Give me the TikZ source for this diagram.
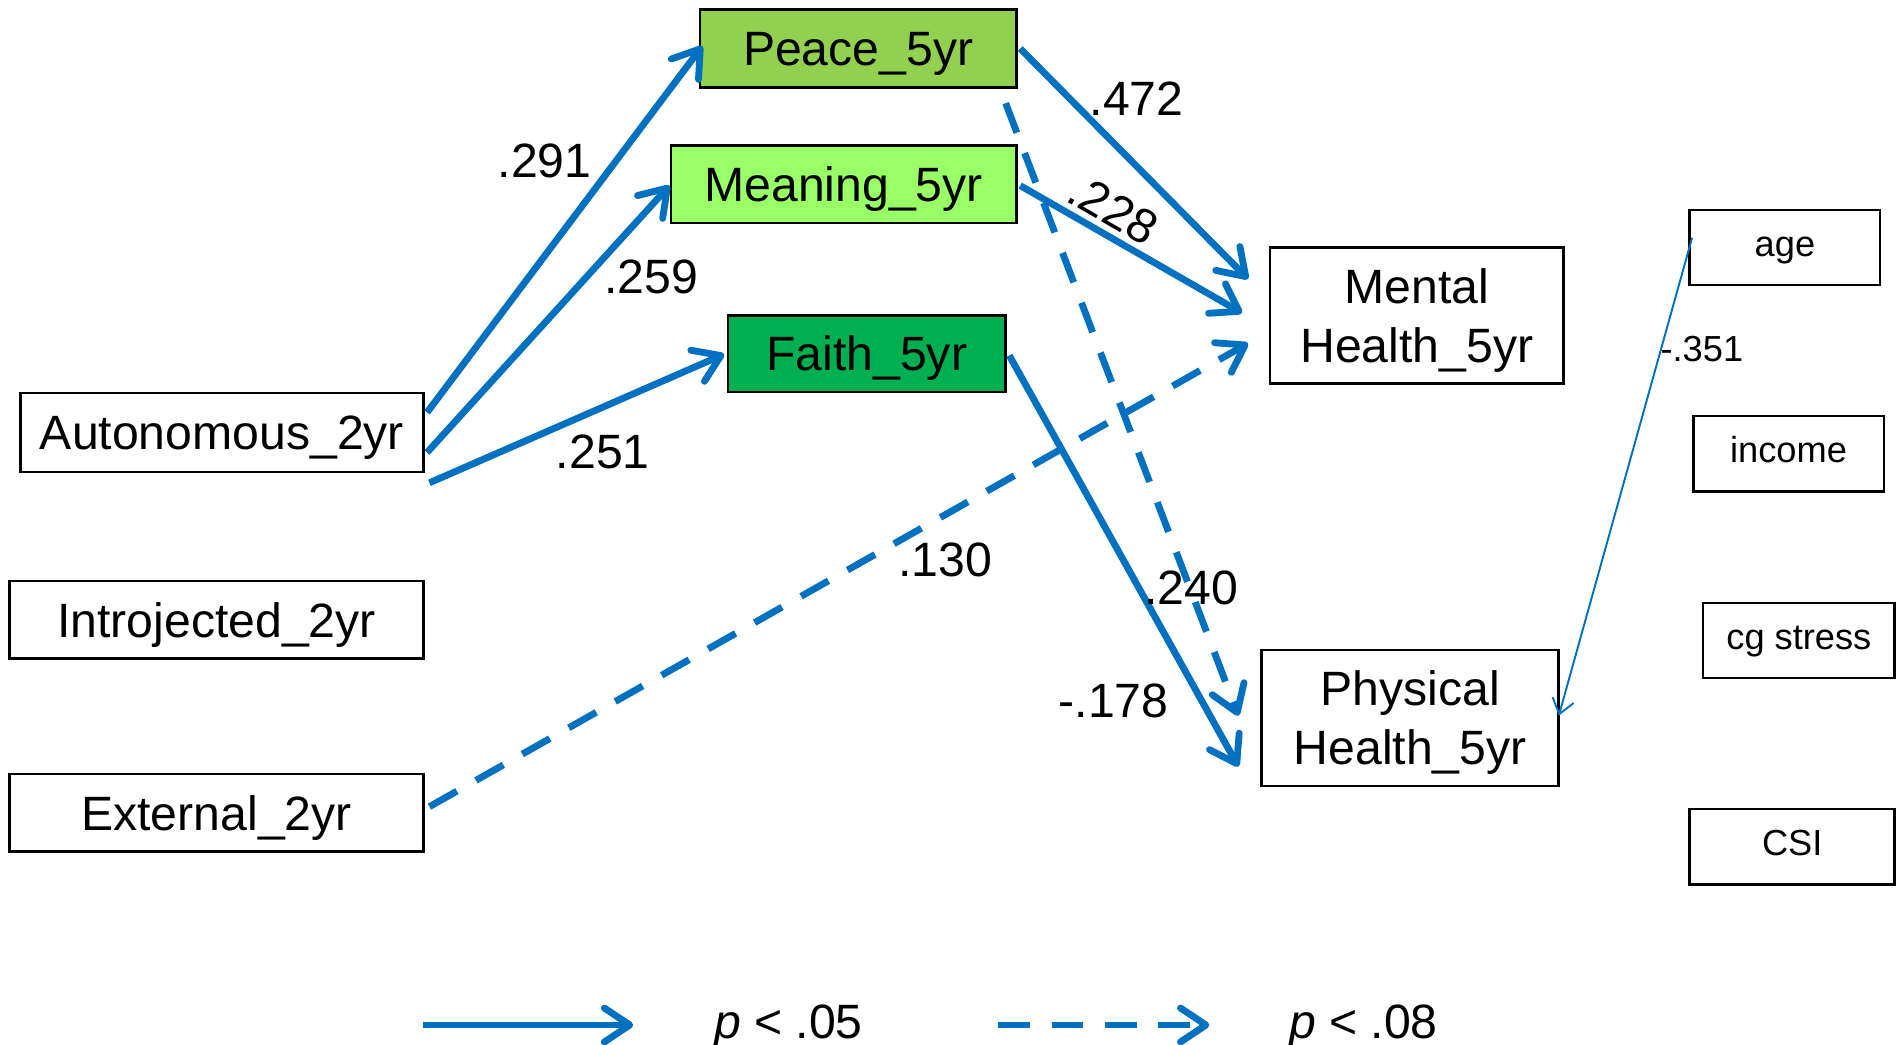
\documentclass[tikz,border=0pt]{standalone}
\usepackage{fontspec}
\setmainfont{Liberation Sans}
\usetikzlibrary{arrows.meta,calc}
\definecolor{pathblue}{HTML}{0070C0}
\definecolor{peacegreen}{HTML}{92D050}
\definecolor{meaninggreen}{HTML}{99FF66}
\definecolor{faithgreen}{HTML}{00B050}

\begin{document}
\begin{tikzpicture}[x=0.1mm,y=-0.1mm,
  var/.style={draw=black,line width=0.6pt,inner sep=0pt,align=center,
    font=\fontsize{11.3}{13.8}\selectfont,text height=8.1pt,text depth=0pt},
  twoline/.style={text height=21.9pt,text depth=0pt},
  cov/.style={draw=black,line width=0.6pt,inner sep=0pt,
    minimum height=6.2mm,font=\fontsize{8.5}{10}\selectfont,
    text height=6.1pt,text depth=2pt},
  sig/.style={draw=pathblue,line width=1.6pt,
    -{Straight Barb[length=2.1mm,width=2.8mm,round]}},
  trend/.style={sig,dash pattern=on 2.6mm off 1.8mm},
  ctrl/.style={draw=pathblue,line width=0.45pt,
    -{Straight Barb[length=1.2mm,width=1.8mm]}},
  coef/.style={font=\fontsize{11.3}{13}\selectfont,inner sep=0pt,
    text height=8.1pt,text depth=0pt},
  ctrlcoef/.style={font=\fontsize{8.5}{10}\selectfont,inner sep=0pt,
    text height=6.1pt,text depth=0pt}]

\useasboundingbox (0,0) rectangle (1568,861);

% mediators
\node[var,fill=peacegreen,minimum width=26.1mm,minimum height=6.4mm] (peace) at (707.5,40) {Peace\_5yr};
\node[var,fill=meaninggreen,minimum width=28.5mm,minimum height=6.4mm] (meaning) at (695.5,152) {Meaning\_5yr};
\node[var,fill=faithgreen,minimum width=22.9mm,minimum height=6.3mm] (faith) at (714.5,291.5) {Faith\_5yr};

% predictors
\node[var,minimum width=33.2mm,minimum height=6.5mm] (auto) at (183,356.5) {Autonomous\_2yr};
\node[var,minimum width=34.1mm,minimum height=6.4mm] (intro) at (178.5,511) {Introjected\_2yr};
\node[var,minimum width=34.1mm,minimum height=6.4mm] (ext) at (178.5,670) {External\_2yr};

% outcomes
\node[var,twoline,minimum width=24.2mm,minimum height=11.2mm] (mental) at (1168,260) {Mental\\Health\_5yr};
\node[var,twoline,minimum width=24.5mm,minimum height=11.2mm] (phys) at (1162.5,592) {Physical\\Health\_5yr};

% covariates
\node[cov,minimum width=15.7mm] (age) at (1471.5,204) {age};
\node[cov,minimum width=15.7mm] (income) at (1474.5,374) {income};
\node[cov,minimum width=15.8mm] (cgstress) at (1483,528) {cg stress};
\node[cov,minimum width=16.9mm] (csi) at (1477.5,698) {CSI};

% significant paths
\draw[sig] ($(auto.east)+(2,-16.5)$) -- ($(peace.west)+(3,-2)$);
\draw[sig] ($(auto.east)+(2,16.5)$) -- ($(meaning.west)+(0,1)$);
\draw[sig] ($(auto.east)+(4,41.5)$) -- ($(faith.west)+(-2,0.5)$);
\draw[sig] ($(peace.east)+(2,0)$) -- ($(mental.west)+(-17,-30)$);
\draw[sig] ($(meaning.east)+(2,1)$) -- ($(mental.west)+(-22,-2)$);
\draw[sig] ($(faith.east)+(2,1.5)$) -- ($(phys.west)+(-18,40)$);

% trend paths
\draw[trend] ($(ext.east)+(4,-5)$) -- ($(mental.west)+(-17,23)$);
\draw[trend] ($(peace.south east)+(-10,12)$) -- ($(phys.west)+(-18,-2)$);

% covariate path
\draw[ctrl] ($(age.west)+(3,-8)$) -- ($(phys.east)+(-1,-2)$);

% coefficients
\node[coef] (c291) at (449,132) {.291};
\node[coef] (c259) at (537,228) {.259};
\node[coef] (c251) at (497,372) {.251};
\node[coef] (c472) at (937,81) {.472};
\node[coef,rotate=-30] (c228) at (918,172) {.228};
\node[coef] (c130) at (779,461) {.130};
\node[coef] (c240) at (982,484) {.240};
\node[coef] (c178) at (918,577) {-.178};
\node[ctrlcoef] (c351) at (1403,287) {-.351};

% legend
\coordinate (lsa) at (349,845);
\coordinate (lsb) at (522,845);
\coordinate (lda) at (823,845);
\coordinate (ldb) at (997,845);
\draw[sig] (lsa) -- (lsb);
\draw[trend] (lda) -- (ldb);
\node[coef] (lsig) at (650,842) {\textit{p} < .05};
\node[coef] (ltrend) at (1124,842) {\textit{p} < .08};
\end{tikzpicture}
\end{document}
